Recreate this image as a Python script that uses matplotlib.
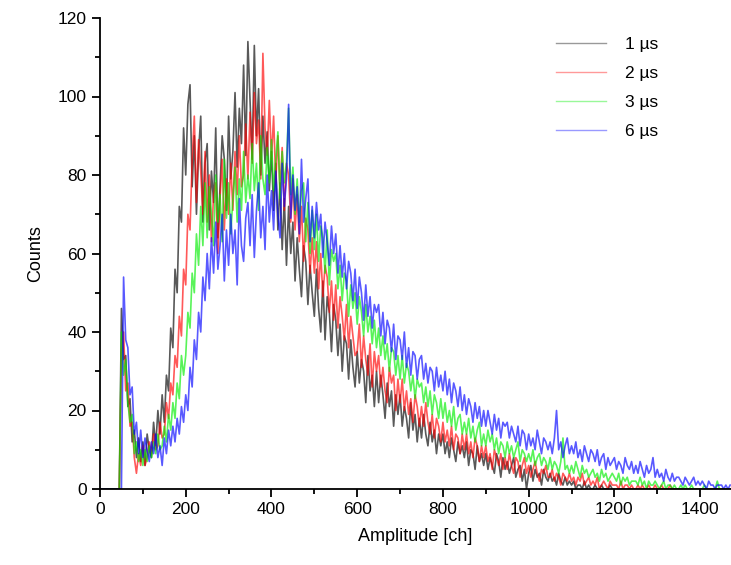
import numpy as np
import matplotlib.pyplot as plt
from matplotlib.ticker import MultipleLocator

plt.rcParams['font.family'] = ['Liberation Sans', 'DejaVu Sans']

# channels 50..1470, step 5 (values below are counts)
ch_start, ch_stop, ch_step = 50, 1470, 5

counts_1us = [
    46, 33, 34, 21, 23, 12, 15, 8, 13, 7,
    12, 6, 14, 10, 8, 17, 11, 20, 14, 24,
    17, 29, 25, 41, 36, 56, 50, 72, 68, 92,
    80, 98, 103, 77, 90, 70, 86, 95, 68, 83,
    88, 66, 81, 73, 92, 64, 77, 90, 84, 71,
    95, 79, 86, 101, 82, 97, 88, 108, 85, 114,
    99, 84, 113, 90, 102, 80, 95, 83, 91, 76,
    86, 71, 83, 66, 78, 61, 74, 57, 72, 60,
    68, 53, 64, 56, 49, 62, 58, 47, 57, 50,
    44, 56, 46, 40, 53, 38, 49, 45, 35, 47,
    43, 34, 42, 30, 39, 37, 28, 38, 31, 26,
    35, 27, 33, 30, 22, 34, 25, 29, 21, 30,
    22, 29, 24, 18, 27, 21, 25, 16, 24, 19,
    24, 16, 21, 18, 13, 22, 15, 19, 12, 18,
    13, 19, 14, 11, 17, 12, 15, 9, 14, 11,
    14, 9, 12, 8, 13, 10, 7, 12, 9, 11,
    8, 12, 6, 10, 9, 5, 11, 7, 9, 6,
    9, 5, 8, 6, 4, 9, 7, 3, 8, 5,
    7, 4, 6, 8, 3, 5, 6, 2, 5, 0,
    4, 6, 2, 5, 3, 4, 1, 5, 3, 2,
    4, 2, 3, 1, 4, 2, 1, 3, 1, 2,
    1, 2, 0, 1, 1, 0, 2, 0, 1, 0,
    0, 1, 0, 0, 1, 0, 0, 0, 1, 0,
]

counts_2us = [
    35, 40, 25, 27, 16, 17, 8, 4, 9, 6,
    11, 6, 8, 12, 9, 14, 10, 11, 17, 13,
    14, 22, 18, 27, 24, 34, 31, 44, 39, 56,
    52, 70, 66, 84, 95, 73, 89, 81, 70, 86,
    68, 80, 63, 75, 78, 60, 74, 84, 66, 79,
    70, 83, 71, 86, 75, 90, 77, 80, 93, 79,
    96, 83, 101, 88, 94, 79, 111, 92, 85, 99,
    84, 95, 78, 90, 76, 87, 71, 83, 80, 68,
    79, 66, 75, 63, 72, 58, 69, 66, 55, 64,
    55, 63, 51, 60, 49, 57, 54, 45, 53, 43,
    52, 41, 49, 44, 38, 47, 36, 44, 39, 34,
    35, 42, 31, 39, 33, 29, 37, 26, 35, 30,
    34, 26, 31, 25, 22, 31, 27, 29, 20, 28,
    22, 28, 20, 25, 19, 23, 17, 24, 21, 16,
    21, 16, 22, 17, 14, 19, 13, 18, 16, 12,
    17, 12, 15, 11, 16, 10, 14, 13, 9, 14,
    10, 14, 9, 12, 8, 13, 11, 7, 11, 8,
    11, 7, 9, 5, 10, 8, 6, 9, 5, 8,
    5, 9, 6, 4, 8, 7, 3, 6, 8, 4,
    6, 3, 5, 7, 4, 2, 5, 4, 6, 3,
    3, 5, 2, 4, 3, 1, 4, 3, 2, 4,
    2, 3, 1, 3, 2, 4, 1, 2, 3, 1,
    2, 1, 3, 0, 1, 2, 1, 0, 2, 1,
    1, 1, 0, 2, 0, 1, 1, 0, 1, 0,
    0, 1, 0, 1, 0, 0, 1, 0, 0, 1,
    0, 0, 1, 0, 0, 0, 1, 0, 0, 0,
]

counts_3us = [
    40, 29, 33, 22, 17, 19, 9, 12, 7, 10,
    6, 10, 7, 11, 8, 12, 9, 14, 10, 11,
    16, 12, 19, 15, 22, 18, 27, 23, 34, 29,
    34, 45, 41, 55, 50, 65, 57, 72, 62, 78,
    64, 77, 70, 62, 80, 68, 75, 63, 84, 69,
    78, 65, 74, 82, 68, 79, 71, 86, 73, 80,
    74, 88, 76, 83, 71, 90, 79, 75, 87, 78,
    89, 76, 84, 91, 74, 86, 78, 83, 97, 75,
    82, 70, 79, 68, 76, 78, 63, 73, 60, 71,
    61, 70, 58, 67, 64, 55, 66, 52, 61, 58,
    60, 51, 57, 48, 55, 53, 44, 52, 46, 50,
    42, 49, 45, 39, 47, 40, 44, 37, 43, 36,
    41, 34, 39, 33, 37, 30, 36, 35, 29, 34,
    28, 34, 27, 32, 30, 25, 29, 23, 28, 26,
    27, 22, 26, 21, 25, 19, 24, 22, 18, 23,
    18, 22, 17, 20, 16, 21, 15, 18, 19, 14,
    17, 14, 18, 13, 16, 12, 15, 17, 11, 14,
    11, 15, 12, 14, 10, 13, 9, 12, 11, 8,
    12, 9, 11, 8, 10, 12, 7, 10, 9, 7,
    9, 7, 10, 6, 8, 9, 6, 8, 7, 5,
    8, 5, 7, 6, 4, 7, 13, 5, 6, 4,
    6, 4, 7, 5, 3, 6, 4, 5, 3, 4,
    5, 3, 4, 2, 5, 3, 4, 2, 3, 4,
    3, 2, 4, 1, 3, 2, 3, 1, 2, 2,
    2, 1, 3, 1, 2, 0, 2, 1, 1, 2,
    1, 0, 1, 2, 0, 1, 1, 0, 1, 0,
    0, 1, 0, 1, 0, 0, 1, 0, 0, 0,
    0, 0, 1, 0, 0, 0, 0, 0, 2, 0,
]

counts_6us = [
    0, 54, 38, 36, 24, 26, 14, 17, 9, 15,
    8, 13, 10, 7, 12, 9, 14, 8, 11, 6,
    13, 9, 15, 11, 16, 12, 18, 14, 21, 17,
    24, 20, 31, 26, 38, 33, 45, 40, 54, 48,
    60, 51, 64, 55, 68, 56, 62, 70, 53, 66,
    57, 70, 60, 66, 52, 74, 62, 58, 69, 73,
    62, 75, 59, 71, 78, 64, 72, 61, 80, 68,
    76, 66, 81, 70, 64, 83, 72, 79, 98, 69,
    80, 71, 77, 65, 84, 68, 74, 79, 63, 72,
    64, 73, 66, 70, 59, 68, 63, 57, 67, 60,
    65, 55, 62, 54, 60, 51, 58, 55, 48, 56,
    46, 54, 50, 43, 52, 44, 49, 41, 47, 45,
    47, 39, 45, 37, 43, 41, 35, 42, 33, 39,
    38, 33, 40, 31, 36, 29, 35, 34, 28, 33,
    34, 28, 32, 27, 31, 30, 25, 31, 26, 29,
    25, 30, 24, 28, 22, 27, 25, 21, 26, 20,
    24, 19, 23, 21, 17, 22, 18, 21, 16, 20,
    16, 20, 17, 14, 19, 15, 18, 13, 17, 16,
    17, 13, 16, 14, 12, 16, 11, 15, 14, 10,
    14, 11, 13, 10, 15, 12, 9, 13, 12, 10,
    12, 9, 13, 20, 10, 12, 8, 11, 13, 9,
    11, 9, 12, 8, 10, 7, 11, 9, 7, 10,
    9, 7, 10, 6, 8, 9, 5, 8, 6, 7,
    8, 5, 7, 6, 4, 8, 6, 5, 7, 4,
    6, 4, 7, 5, 3, 6, 4, 5, 8, 3,
    5, 3, 4, 2, 5, 3, 2, 4, 2, 3,
    3, 2, 1, 3, 2, 1, 2, 3, 1, 2,
    1, 2, 1, 0, 2, 1, 1, 0, 1, 1,
    1, 0, 1, 0, 1,
]

labels = ['1 µs', '2 µs', '3 µs', '6 µs']
colors = ['#000000', '#ff0000', '#00ee00', '#0000ff']

ch = np.arange(0, ch_stop + 1, ch_step)
n_lead = ch_start // ch_step

def full(vals):
    # zero below channel 50 and past the end of the listed counts
    out = np.zeros(len(ch))
    out[n_lead:n_lead + len(vals)] = vals
    return out

series = [counts_1us, counts_2us, counts_3us, counts_6us]

fig = plt.figure(figsize=(7.31, 5.65), dpi=100)
ax = fig.add_axes([100/731, 76/565, 631/731, 471/565])

for vals, c, lab in zip(series, colors, labels):
    ax.plot(ch, full(vals), color=c, lw=1.2, alpha=0.65, label=lab)

ax.set_xlim(0, 1472)
ax.set_ylim(0, 120)
ax.spines['top'].set_visible(False)
ax.spines['right'].set_visible(False)
ax.spines['left'].set_linewidth(1.3)
ax.spines['bottom'].set_linewidth(1.3)
ax.xaxis.set_major_locator(MultipleLocator(200))
ax.xaxis.set_minor_locator(MultipleLocator(100))
ax.yaxis.set_major_locator(MultipleLocator(20))
ax.yaxis.set_minor_locator(MultipleLocator(10))
ax.tick_params(which='major', direction='out', length=6, width=1.3, labelsize=12.5)
ax.tick_params(which='minor', direction='out', length=3.5, width=1.3)
ax.set_xlabel('Amplitude [ch]', fontsize=13, labelpad=8)
ax.set_ylabel('Counts', fontsize=13, labelpad=10)

leg = ax.legend(loc='upper left', bbox_to_anchor=(547/731, 1 - 28/565),
                bbox_transform=fig.transFigure, frameon=False, fontsize=12.5,
                handlelength=2.9, handletextpad=1.1, labelspacing=0.8, borderpad=0)
for h in leg.get_lines():
    h.set_linewidth(1.0)
    h.set_alpha(0.4)

fig.savefig('out.png', dpi=100)
